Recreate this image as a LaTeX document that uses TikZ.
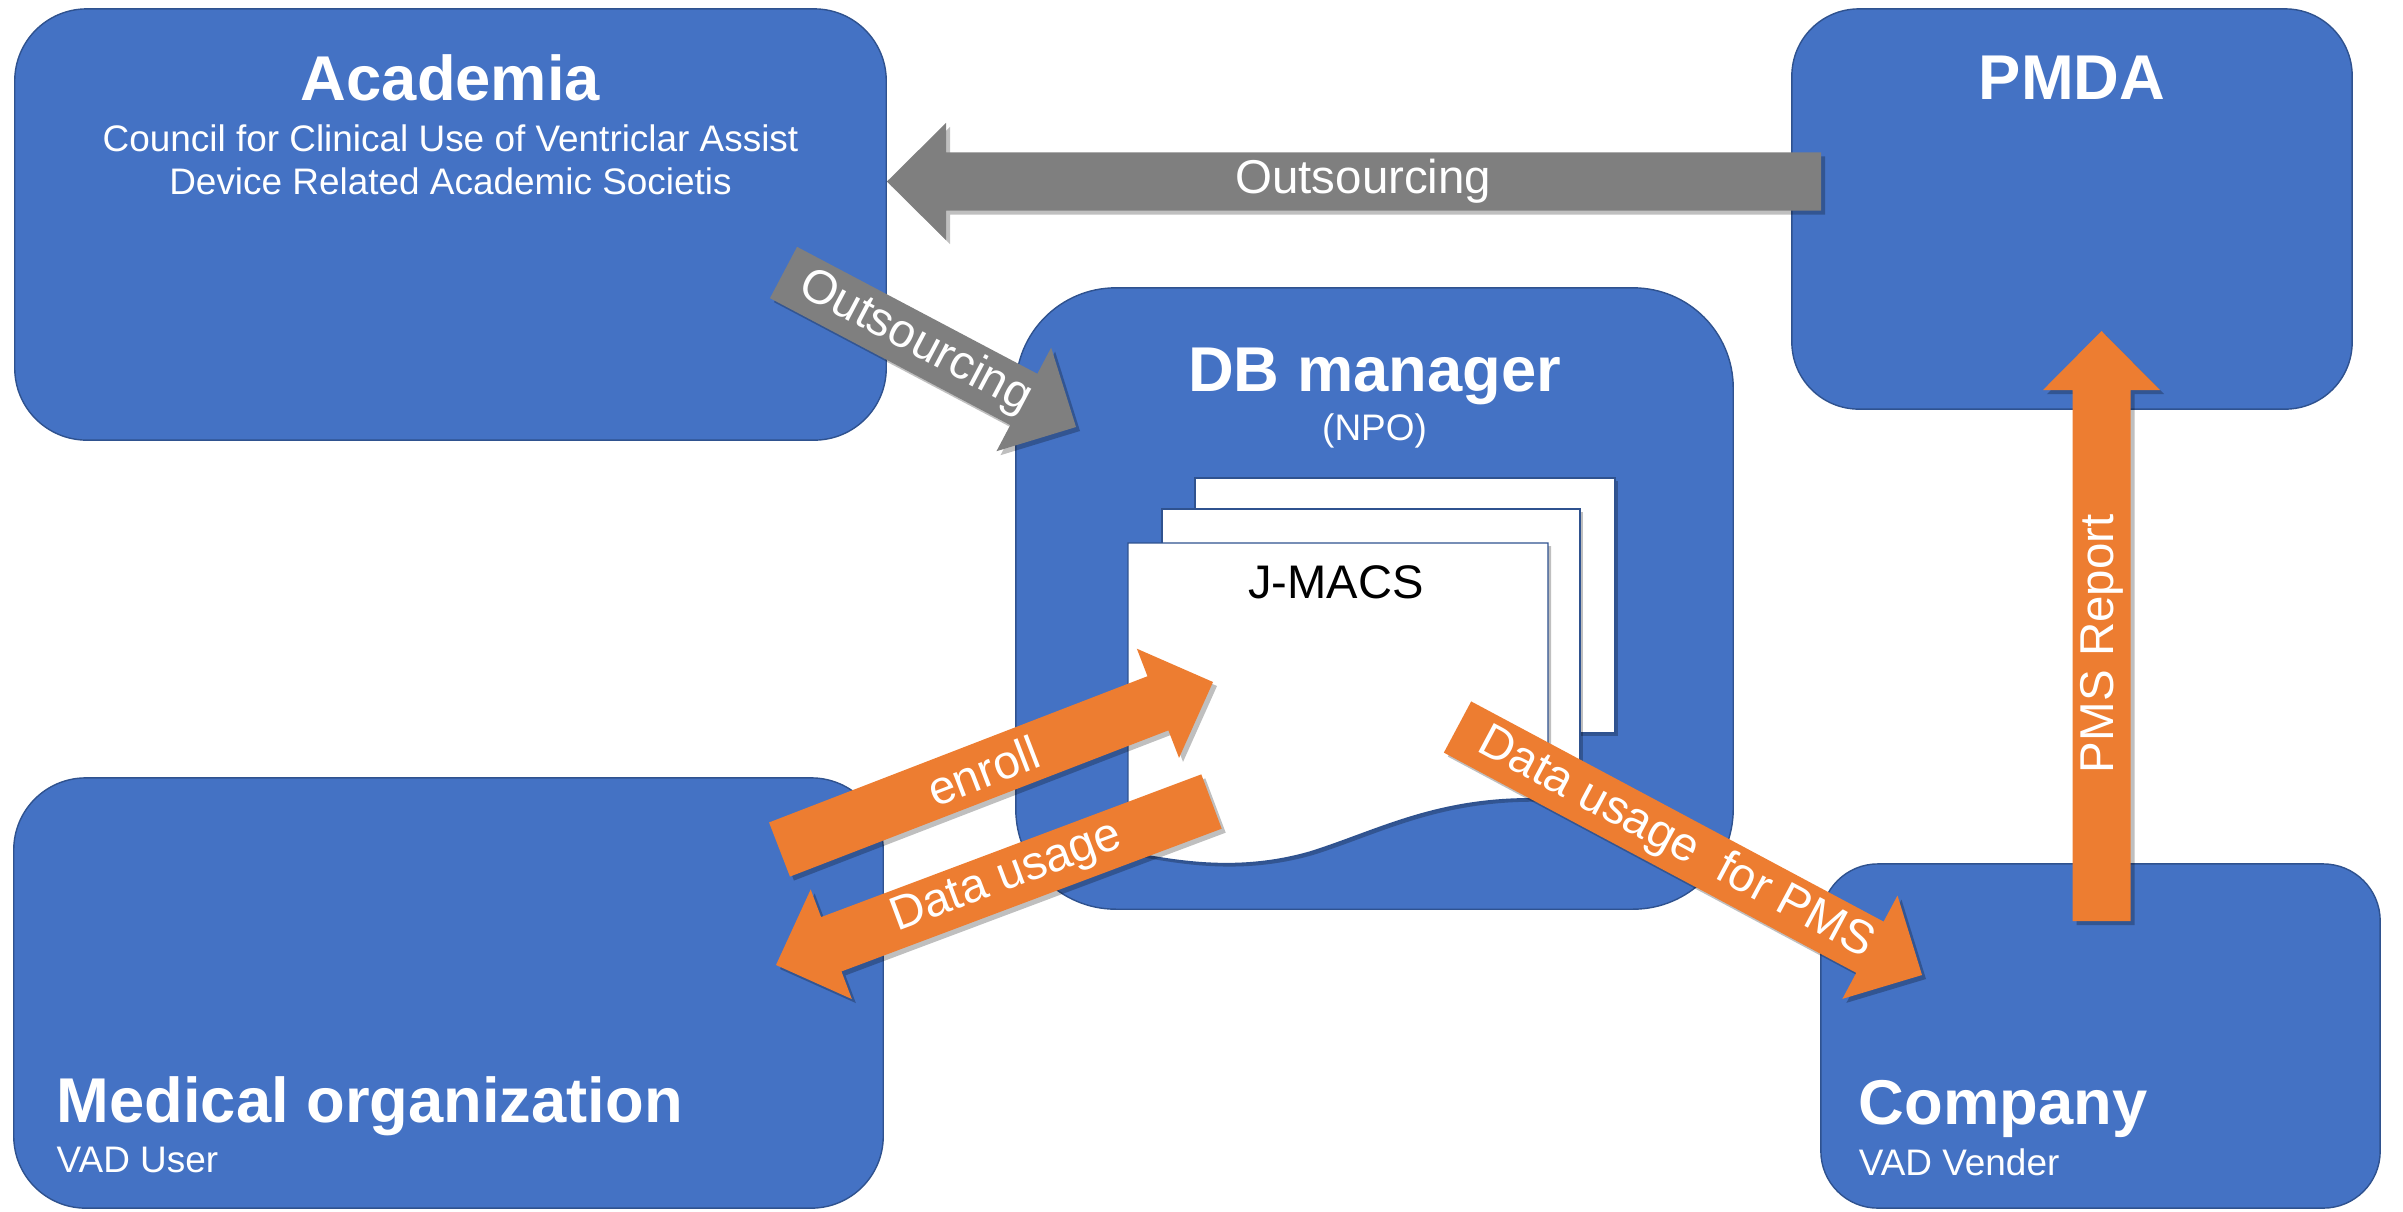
\documentclass[tikz,border=0pt]{standalone}
\usepackage{fontspec}
\setmainfont{Liberation Sans}
\usetikzlibrary{calc,shadows,positioning}

\definecolor{boxblue}{HTML}{4472C4}
\definecolor{boxline}{HTML}{2F528F}
\definecolor{arrorange}{HTML}{ED7D31}
\definecolor{arrgray}{HTML}{7F7F7F}

\begin{document}
\begin{tikzpicture}[x=0.01cm,y=-0.01cm]
\useasboundingbox (0,0) rectangle (2403,1211);
\tikzstyle{party} = [rectangle, draw=boxline, line width=0.4pt, fill=boxblue]
\tikzstyle{title} = [text=white, inner sep=0pt, font=\fontsize{18}{21}\selectfont\bfseries]
\tikzstyle{sub} = [text=white, inner sep=0pt, font=\fontsize{10.5}{12.2}\selectfont]
\tikzstyle{page} = [fill=white, draw=boxline, line width=0.4pt,
  drop shadow={opacity=0.25, fill=black, shadow xshift=0.03cm, shadow yshift=-0.03cm}]
\tikzstyle{lbl} = [text=white, sloped, pos=0.47, inner sep=0pt, font=\fontsize{13.5}{16}\selectfont]
\tikzset{
  fatarrow/.style={fill=#1, draw=none,
    drop shadow={opacity=0.25, fill=black, shadow xshift=0.04cm, shadow yshift=-0.04cm},
    to path={let \p1=($(\tikztotarget)!0.59cm!(\tikztostart)$) in
      ($(\tikztostart)!0.29cm!90:(\tikztotarget)$)
      -- ($(\p1)!0.29cm!90:(\tikztotarget)$)
      -- ($(\p1)!0.585cm!90:(\tikztotarget)$)
      -- (\tikztotarget)
      -- ($(\p1)!0.585cm!-90:(\tikztotarget)$)
      -- ($(\p1)!0.29cm!-90:(\tikztotarget)$)
      -- ($(\tikztostart)!0.29cm!-90:(\tikztotarget)$) -- cycle
      (\tikztostart) -- (\tikztotarget) \tikztonodes}},
  fatarrow/.default=arrorange
}

% the five parties
\node[party, rounded corners=0.72cm, minimum width=8.71cm, minimum height=4.31cm] (academia) at (450.5,224.5) {};
\node[party, rounded corners=0.67cm, minimum width=5.6cm, minimum height=4cm] (pmda) at (2072,209) {};
\node[party, rounded corners=1cm, minimum width=7.17cm, minimum height=6.21cm] (db) at (1374.5,598.5) {};
\node[party, rounded corners=0.72cm, minimum width=8.69cm, minimum height=4.3cm] (medical) at (448.5,993) {};
\node[party, rounded corners=0.57cm, minimum width=5.59cm, minimum height=3.44cm] (company) at (2100.5,1036) {};

\node[title, anchor=base] (academiaT) at ($(academia.north)+(0,92)$) {Academia};
\node[sub, anchor=north, align=center] (academiaS) at ($(academia.north)+(0,116)$)
  {Council for Clinical Use of Ventriclar Assist\\Device Related Academic Societis};
\node[title, anchor=base] (pmdaT) at ($(pmda.north)+(0,91)$) {PMDA};
\node[title, anchor=base] (dbT) at ($(db.north)+(0,104)$) {DB manager};
\node[sub, anchor=base] (dbS) at ($(db.north)+(0,153)$) {(NPO)};
\node[title, anchor=base west] (medicalT) at ($(medical.south west)+(43,-86)$) {Medical organization};
\node[sub, anchor=base west] (medicalS) at ($(medical.south west)+(43,-36)$) {VAD User};
\node[title, anchor=base west] (companyT) at ($(company.south west)+(38,-84)$) {Company};
\node[sub, anchor=base west] (companyS) at ($(company.south west)+(38,-33)$) {VAD Vender};

% J-MACS documents
\filldraw[page] (1195,478) rectangle (1615,733);
\filldraw[page] (1162,509) rectangle (1580,766);
\filldraw[page] (1128,543) -- (1548,543) -- (1548,799)
  .. controls (1440,795) and (1380,830) .. (1310,852)
  .. controls (1240,872) and (1180,862) .. (1128,852) -- cycle;
\node[anchor=base, inner sep=0pt, font=\fontsize{13.4}{16}\selectfont] (jmacs) at (1336,598) {J-MACS};

% arrow ends
\coordinate (outHs) at (1821,181.5);
\coordinate (outHt) at (academia.east |- outHs);
\coordinate (outDs) at (783.5,272.5);
\coordinate (outDt) at (1076,427);
\coordinate (enrollS) at (779.5,849.5);
\coordinate (enrollT) at (1213,682);
\coordinate (usageS) at (1211.5,801.5);
\coordinate (usageT) at (776,965);
\coordinate (pmsS) at (1457.5,727);
\coordinate (pmsT) at (1922,975);
\coordinate (reportS) at (2101.5,921);
\coordinate (reportT) at (2101.5,331);

\path[fatarrow=arrgray] (outHs) to node[lbl, pos=0.49] {Outsourcing} (outHt);
\path[fatarrow=arrgray] (outDs) to node[lbl, pos=0.45] {Outsourcing} (outDt);
\path[fatarrow] (enrollS) to node[lbl] {enroll} (enrollT);
\path[fatarrow] (usageS) to node[lbl] {Data usage} (usageT);
\path[fatarrow] (pmsS) to node[lbl] {Data usage\ \ for PMS} (pmsT);
\path[fatarrow] (reportS) to node[lbl] {PMS Report} (reportT);

\end{tikzpicture}
\end{document}
